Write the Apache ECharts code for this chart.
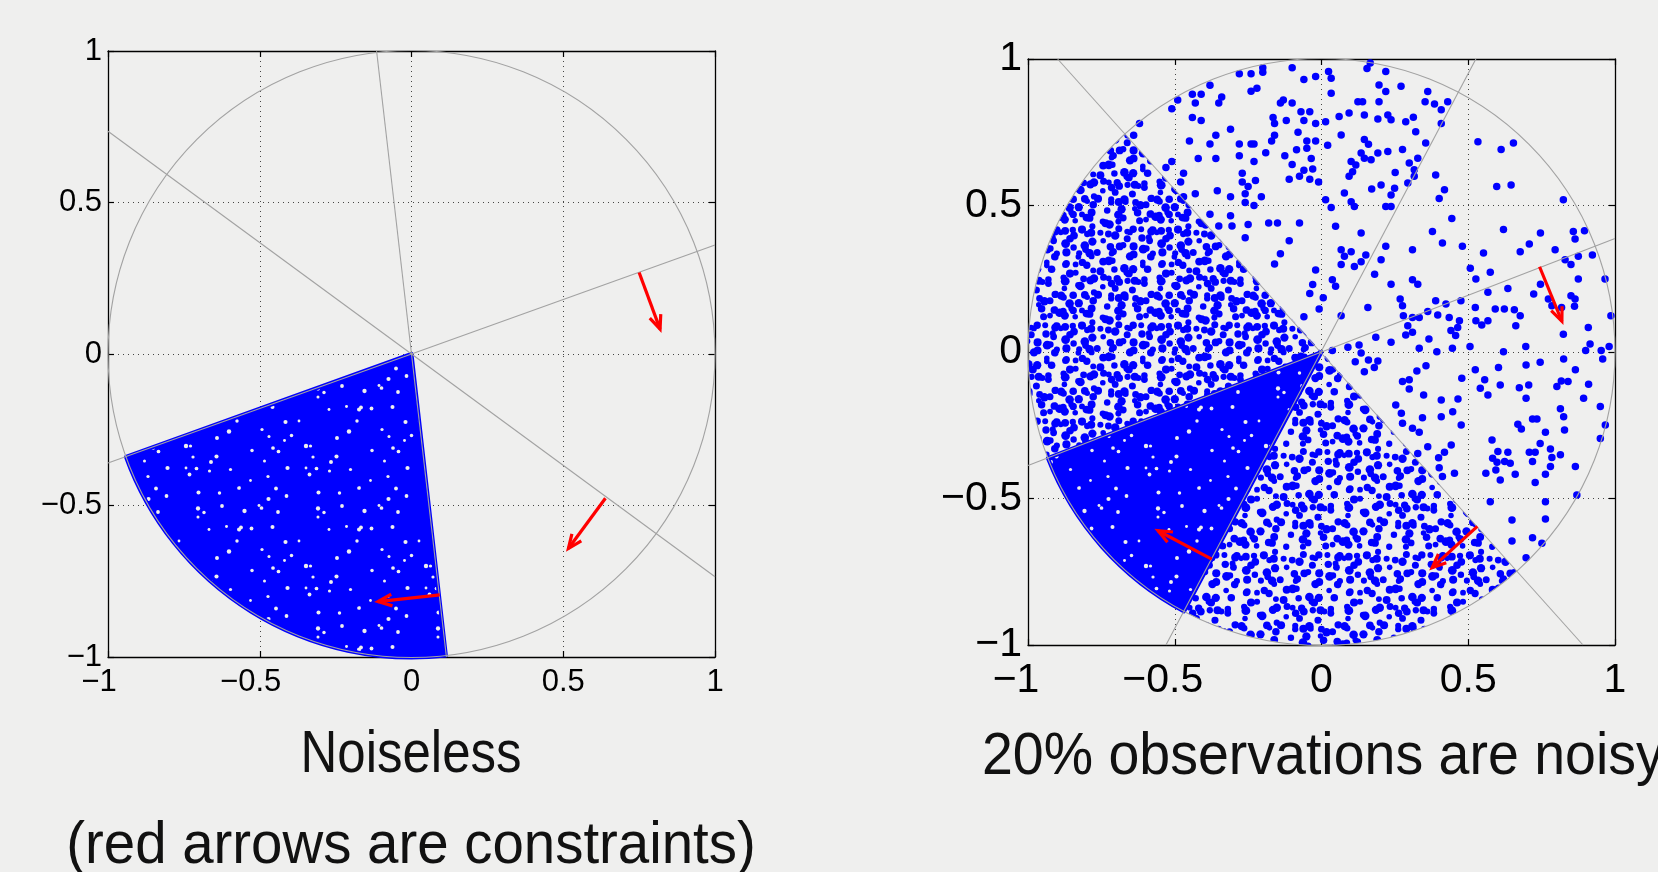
<!DOCTYPE html>
<html>
<head>
<meta charset="utf-8">
<script src="https://cdn.jsdelivr.net/npm/echarts@6/dist/echarts.min.js"></script>
<style>
  html, body { margin: 0; padding: 0; background: #efefee; }
  #main { width: 1658px; height: 872px; }
</style>
</head>
<body>
<div id="main"></div>
<script>
// tick values on both axes of both plots
const ticks = [-1, -0.5, 0, 0.5, 1];

// left plot: noiseless
// lines through the origin, [x1, y1, x2, y2]
const cleanLines = [[-0.115, 1, 0.115, -1], [-1, 0.735, 1, -0.735], [-1, -0.36, 1, 0.36]];
// filled sector of points: [radius, from angle, to angle] in degrees
const cleanSector = [[1, 199.8, 276.5]];
// constraints, [x0, y0, x1, y1]
const cleanArrows = [[0.75, 0.269, 0.819, 0.082], [0.639, -0.476, 0.517, -0.642], [0.093, -0.795, -0.11, -0.817]];

// right plot: 20% noisy
const noisyLines = [[-0.899, 1, 0.891, -1], [0.526, 1, -0.53, -1], [-1, -0.387, 1, 0.387]];
const noisySolid = [[1, 201.2, 242.1]];
const noisyDense = [[1, 132, 201.2]];
const noisyMedium = [[1, 242.1, 311.7]];
const noisyArrows = [[0.743, 0.291, 0.819, 0.105], [0.531, -0.595, 0.377, -0.736], [-0.374, -0.707, -0.557, -0.61]];
// the sparse observations, [x, y]
const noisyPoints = [
  [-0.28,0.95],[-0.24,0.95],[-0.2,0.97],[-0.2,0.955],[-0.1,0.97],[-0.06,0.93],[-0.02,0.94],[-0.38,0.91],[-0.41,0.88],[-0.44,0.88],
  [-0.22,0.9],[-0.24,0.89],[-0.49,0.86],[-0.51,0.83],[-0.43,0.85],[-0.34,0.87],[-0.35,0.85],[-0.44,0.8],[-0.41,0.79],[-0.31,0.76],
  [-0.62,0.78],[-0.64,0.74],[-0.45,0.72],[-0.36,0.74],[-0.38,0.71],[-0.42,0.66],[-0.36,0.66],[-0.28,0.67],[-0.28,0.71],[-0.24,0.71],
  [-0.23,0.71],[-0.23,0.65],[-0.19,0.68],[-0.17,0.72],[-0.16,0.74],[-0.165,0.8],[-0.16,0.78],[-0.14,0.85],[-0.13,0.86],[-0.1,0.85],
  [-0.12,0.79],[-0.07,0.82],[-0.06,0.79],[-0.04,0.82],[-0.02,0.78],[-0.02,0.72],[-0.05,0.72],[-0.08,0.75],[-0.085,0.69],[-0.05,0.695],
  [-0.035,0.66],[-0.1,0.64],[-0.125,0.67],[-0.06,0.62],[-0.075,0.6],[-0.03,0.625],[-0.11,0.59],[-0.04,0.59],[-0.01,0.58],[-0.27,0.61],
  [-0.27,0.58],[-0.25,0.565],[-0.225,0.585],[-0.26,0.54],[-0.26,0.51],[-0.31,0.53],[-0.205,0.53],[-0.23,0.5],[-0.355,0.55],[-0.38,0.47],
  [-0.35,0.43],[-0.31,0.465],[-0.305,0.43],[-0.25,0.435],[-0.18,0.44],[-0.15,0.44],[-0.075,0.44],[-0.11,0.38],[-0.26,0.39],[-0.14,0.335],
  [-0.16,0.3],[-0.02,0.28],[-0.03,0.23],[-0.04,0.2],[-0.06,0.12],[-0.47,0.61],[-0.53,0.63],[-0.51,0.65],[-0.48,0.58],[-0.47,0.53],[-0.43,0.54],
  [0.024,0.957],[0.033,0.934],[0.033,0.883],[0.166,0.986],[0.155,0.968],[0.219,0.957],[0.196,0.911],[0.219,0.889],[0.271,0.907],[0.124,0.854],
  [0.14,0.854],[0.196,0.854],[0.362,0.889],[0.353,0.854],[0.385,0.846],[0.408,0.827],[0.43,0.854],[0.408,0.78],[0.094,0.816],[0.06,0.804],
  [0.146,0.809],[0.192,0.795],[0.226,0.809],[0.237,0.793],[0.287,0.786],[0.313,0.801],[0.321,0.752],[0.355,0.713],[0.014,0.786],[0.021,0.706],
  [0.067,0.741],[0.146,0.725],[0.16,0.709],[0.135,0.679],[0.146,0.661],[0.169,0.656],[0.192,0.679],[0.226,0.684],[0.276,0.691],[0.328,0.661],
  [0.299,0.645],[0.316,0.622],[0.316,0.6],[0.294,0.577],[0.251,0.613],[0.101,0.65],[0.117,0.638],[0.094,0.6],[0.106,0.615],[0.171,0.556],
  [0.203,0.57],[0.249,0.559],[0.237,0.536],[0.078,0.543],[0.014,0.52],[0.033,0.493],[0.101,0.513],[0.112,0.497],[0.219,0.497],[0.237,0.497],
  [0.048,0.429],[0.135,0.406],[0.067,0.349],[0.078,0.327],[0.101,0.342],[0.151,0.331],[0.135,0.308],[0.112,0.292],[0.067,0.299],[0.037,0.247],
  [0.048,0.224],[0.006,0.185],[-0.008,0.147],[0.067,0.124],
  [0.533,0.718],[0.612,0.691],[0.654,0.713],[0.389,0.604],[0.419,0.554],[0.401,0.524],[0.597,0.565],[0.646,0.57],[0.824,0.52],[0.444,0.456],
  [0.378,0.411],[0.412,0.372],[0.48,0.361],[0.62,0.418],[0.31,0.349],[0.219,0.361],[0.203,0.315],[0.181,0.265],[0.31,0.247],[0.328,0.231],
  [0.237,0.231],[0.708,0.369],[0.677,0.342],[0.746,0.406],[0.796,0.349],[0.858,0.411],[0.864,0.386],[0.896,0.414],[0.83,0.315],[0.85,0.299],
  [0.875,0.327],[0.923,0.331],[0.552,0.338],[0.507,0.286],[0.575,0.272],[0.526,0.249],[0.158,0.152],
  [0.746,0.231],[0.723,0.198],[0.635,0.217],[0.567,0.204],[0.966,0.249],[0.875,0.249],[0.773,0.181],[0.785,0.158],[0.818,0.152],[0.85,0.192],
  [0.864,0.181],[0.862,0.156],[0.657,0.144],[0.677,0.124],[0.662,0.09],[0.623,0.147],[0.592,0.147],[0.567,0.107],[0.546,0.092],[0.526,0.107],
  [0.524,0.152],[0.47,0.107],[0.464,0.084],[0.457,0.056],[0.441,0.073],[0.435,0.118],[0.396,0.126],[0.389,0.175],[0.424,0.164],[0.475,0.175],
  [0.362,0.138],[0.333,0.118],[0.31,0.118],[0.294,0.09],[0.276,0.158],[0.279,0.124],[0.268,0.181],[0.31,0.067],[0.287,0.058],[0.366,0.044],
  [0.333,0.013],[0.393,0.001],[0.185,0.05],[0.237,0.033],[0.128,0.024],[0.135,-0.003],[0.09,0.016],[0.037,0.005],[0.909,0.084],[0.824,0.061],
  [0.696,0.019],[0.62,0.001],[0.915,0.027],[0.9,0.005],[0.953,0.005],[0.98,0.019],[0.986,0.124],[0.506,0.019],[0.446,0.013],
  [0.958,-0.024],[0.825,-0.024],[0.745,-0.035],[0.697,-0.044],[0.603,-0.053],[0.524,-0.061],[0.478,-0.09],[0.556,-0.095],[0.541,-0.124],[0.567,-0.147],
  [0.609,-0.113],[0.706,-0.113],[0.674,-0.122],[0.802,-0.118],[0.817,-0.099],[0.84,-0.101],[0.865,-0.061],[0.91,-0.11],[0.893,-0.158],[0.95,-0.186],
  [0.967,-0.249],[0.95,-0.295],[0.814,-0.194],[0.825,-0.221],[0.763,-0.274],[0.828,-0.266],[0.719,-0.229],[0.734,-0.229],[0.669,-0.247],[0.681,-0.263],
  [0.697,-0.158],[0.745,-0.312],[0.78,-0.331],[0.708,-0.342],[0.728,-0.342],[0.785,-0.36],[0.814,-0.351],[0.719,-0.374],[0.78,-0.391],[0.763,-0.417],
  [0.66,-0.417],[0.728,-0.445],[0.865,-0.391],[0.87,-0.488],[0.763,-0.511],[0.601,-0.34],[0.635,-0.342],[0.583,-0.363],[0.598,-0.376],[0.624,-0.374],
  [0.643,-0.38],[0.594,-0.403],[0.609,-0.437],[0.56,-0.414],[0.581,-0.3],[0.649,-0.573],[0.763,-0.57],[0.719,-0.634],[0.751,-0.653],[0.697,-0.702],
  [0.649,-0.645],[0.575,-0.511],[0.453,-0.414],[0.408,-0.164],[0.408,-0.221],[0.447,-0.204],[0.476,-0.249],[0.465,-0.16],[0.356,-0.047],[0.325,-0.065],
  [0.299,-0.095],[0.276,-0.101],[0.299,-0.126],[0.348,-0.147],[0.253,-0.181],[0.272,-0.209],[0.276,-0.243],[0.31,-0.26],[0.333,-0.274],[0.344,-0.224],
  [0.362,-0.323],[0.328,-0.346],[0.419,-0.342],[0.442,-0.317],[0.399,-0.361],[0.401,-0.395],[0.412,-0.425],
  [0.115,-0.033],[0.16,-0.027],[0.192,-0.031],[0.18,-0.053],[0.146,-0.067]
];

const BG = '#efefee';
const BLUE = '#0000ff';
const GREY = '#a2a2a2';
const RED = '#ff0000';

// textures for the areas where the points are too many to place one by one
const JIT = [0.3, -0.8, 0.6, -0.2, 0.9, -0.5, 0.1, -0.9, 0.7, -0.4, 0.5, -0.7, 0.2, -0.1, 0.8, -0.6, 0.4];
const jit = k => JIT[((k % JIT.length) + JIT.length) % JIT.length];
function texture(step, n, bg, color, rad, keep) {
  const cv = document.createElement('canvas');
  const W = Math.round(step * n);
  cv.width = cv.height = W;
  const ctx = cv.getContext('2d');
  if (bg) { ctx.fillStyle = bg; ctx.fillRect(0, 0, W, W); }
  ctx.fillStyle = color;
  for (let i = 0; i < n; i++) {
    for (let j = 0; j < n; j++) {
      const jx = jit(i * i * 7 + j * j * 3 + i * j * 5 + j);
      const jy = jit(i * i * 2 + j * j * 11 + i * j * 3 + i + 4);
      if (keep !== null && jit(i * j * 13 + i * 3 + j * j + 5) < keep) continue;
      const x = (i + 0.5) * W / n + jx * step * 0.5;
      const y = (j + 0.5) * W / n + jy * step * 0.5;
      const r = rad * (1 + 0.25 * jit(i * 5 + j * j * 7 + 2));
      for (let ox = -W; ox <= W; ox += W) {
        for (let oy = -W; oy <= W; oy += W) {
          ctx.beginPath();
          ctx.arc(x + ox, y + oy, r, 0, Math.PI * 2);
          ctx.fill();
        }
      }
    }
  }
  return { image: cv, repeat: 'repeat' };
}
const solidFill = texture(10, 12, BLUE, BG, 1.8, 0.35);
const denseFill = texture(8.0, 12, null, BLUE, 3.6, -0.75);
const mediumFill = texture(8.6, 12, null, BLUE, 3.6, -0.6);

function sectorItem(fill, lw) {
  return function (params, api) {
    const c = api.coord([0, 0]);
    const r = api.size([api.value(0), 0])[0];
    const a0 = api.value(1) * Math.PI / 180;
    const a1 = api.value(2) * Math.PI / 180;
    return {
      type: 'sector',
      shape: { cx: c[0], cy: c[1], r0: 0, r: r, startAngle: -a1, endAngle: -a0, clockwise: true },
      style: { fill: fill, stroke: lw ? BLUE : null, lineWidth: lw, lineJoin: 'round' }
    };
  };
}

function lineItem(params, api) {
  const p0 = api.coord([api.value(0), api.value(1)]);
  const p1 = api.coord([api.value(2), api.value(3)]);
  return {
    type: 'line',
    shape: { x1: p0[0], y1: p0[1], x2: p1[0], y2: p1[1] },
    style: { stroke: GREY, lineWidth: 1.1 }
  };
}

function circleItem(params, api) {
  const c = api.coord([0, 0]);
  return {
    type: 'circle',
    shape: { cx: c[0], cy: c[1], r: api.size([1, 0])[0] },
    style: { fill: null, stroke: GREY, lineWidth: 1.1 }
  };
}

function arrowItem(params, api) {
  const p0 = api.coord([api.value(0), api.value(1)]);
  const p1 = api.coord([api.value(2), api.value(3)]);
  const ang = Math.atan2(p1[1] - p0[1], p1[0] - p0[0]);
  const h = 15, w = 0.4;
  const a = [p1[0] - h * Math.cos(ang - w), p1[1] - h * Math.sin(ang - w)];
  const b = [p1[0] - h * Math.cos(ang + w), p1[1] - h * Math.sin(ang + w)];
  return {
    type: 'group',
    children: [
      { type: 'line', shape: { x1: p0[0], y1: p0[1], x2: p1[0], y2: p1[1] }, style: { stroke: RED, lineWidth: 3.2 } },
      { type: 'polyline', shape: { points: [a, p1, b] }, style: { stroke: RED, lineWidth: 3.2, fill: null, lineJoin: 'miter' } }
    ]
  };
}

const fmt = v => (v < 0 ? '\u2212' + (-v) : '' + v);

function axes(grid, fs, xMargin) {
  const base = { type: 'value', min: -1, max: 1, interval: 0.5, gridIndex: grid };
  const axisLine = { show: true, onZero: false, lineStyle: { color: '#000', width: 1.3 } };
  const axisTick = { show: true, inside: true, length: 6, lineStyle: { color: '#000', width: 1.2 } };
  const split = { show: true, lineStyle: { color: '#444', width: 1, type: [1, 4] } };
  const label = {
    show: true, color: '#000', fontSize: fs, fontFamily: '"Liberation Sans", Arial, sans-serif',
    showMinLabel: true, showMaxLabel: true
  };
  const off = { show: false };
  return {
    x: [
      Object.assign({}, base, {
        position: 'bottom', axisLine, axisTick, splitLine: split,
        axisLabel: Object.assign({}, label, {
          margin: xMargin,
          formatter: v => (v < 0 ? fmt(v) + '{p|\u2212}' : fmt(v)),
          rich: { p: { fontSize: fs, fontFamily: label.fontFamily, color: 'rgba(0,0,0,0)' } }
        })
      }),
      Object.assign({}, base, { position: 'top', axisLine, axisTick, splitLine: off, axisLabel: off })
    ],
    y: [
      Object.assign({}, base, {
        position: 'left', axisLine, axisTick, splitLine: split,
        axisLabel: Object.assign({}, label, { margin: 6, formatter: fmt })
      }),
      Object.assign({}, base, { position: 'right', axisLine, axisTick, splitLine: off, axisLabel: off })
    ]
  };
}

const leftAxes = axes(0, 31, 10);
const rightAxes = axes(1, 41, 15);
const titleFont = '"Liberation Sans", Arial, sans-serif';

const chart = echarts.init(document.getElementById('main'));
chart.setOption({
  backgroundColor: BG,
  animation: false,
  grid: [
    { left: 108, top: 51, width: 607, height: 606 },
    { left: 1028, top: 59, width: 587, height: 586 }
  ],
  xAxis: leftAxes.x.concat(rightAxes.x),
  yAxis: leftAxes.y.concat(rightAxes.y),
  graphic: [
    { type: 'text', x: 411, y: 755, scaleX: 0.85, style: { text: 'Noiseless', font: '60px ' + titleFont, fill: '#111', textAlign: 'center', textVerticalAlign: 'middle' } },
    { type: 'text', x: 411, y: 846, scaleX: 0.94, style: { text: '(red arrows are constraints)', font: '60px ' + titleFont, fill: '#111', textAlign: 'center', textVerticalAlign: 'middle' } },
    { type: 'text', x: 982, y: 757, scaleX: 0.925, style: { text: '20% observations are noisy', font: '60px ' + titleFont, fill: '#111', textAlign: 'left', textVerticalAlign: 'middle' } }
  ],
  series: [
    // left
    { type: 'custom', xAxisIndex: 0, yAxisIndex: 0, z: 2, data: cleanSector, renderItem: sectorItem(solidFill, 4) },
    { type: 'custom', xAxisIndex: 0, yAxisIndex: 0, z: 3, data: [[0, 0]], renderItem: circleItem },
    { type: 'custom', xAxisIndex: 0, yAxisIndex: 0, z: 3, data: cleanLines, renderItem: lineItem },
    { type: 'custom', xAxisIndex: 0, yAxisIndex: 0, z: 4, data: cleanArrows, renderItem: arrowItem },
    // right
    { type: 'custom', xAxisIndex: 2, yAxisIndex: 2, z: 2, data: noisyDense, renderItem: sectorItem(denseFill, 0) },
    { type: 'custom', xAxisIndex: 2, yAxisIndex: 2, z: 2, data: noisyMedium, renderItem: sectorItem(mediumFill, 0) },
    { type: 'custom', xAxisIndex: 2, yAxisIndex: 2, z: 2, data: noisySolid, renderItem: sectorItem(solidFill, 4) },
    {
      type: 'scatter', xAxisIndex: 2, yAxisIndex: 2, z: 2, data: noisyPoints,
      symbol: 'circle', symbolSize: 7.5, itemStyle: { color: BLUE, opacity: 1 }, silent: true
    },
    { type: 'custom', xAxisIndex: 2, yAxisIndex: 2, z: 3, data: [[0, 0]], renderItem: circleItem },
    { type: 'custom', xAxisIndex: 2, yAxisIndex: 2, z: 3, data: noisyLines, renderItem: lineItem },
    { type: 'custom', xAxisIndex: 2, yAxisIndex: 2, z: 4, data: noisyArrows, renderItem: arrowItem }
  ]
});
</script>
</body>
</html>
